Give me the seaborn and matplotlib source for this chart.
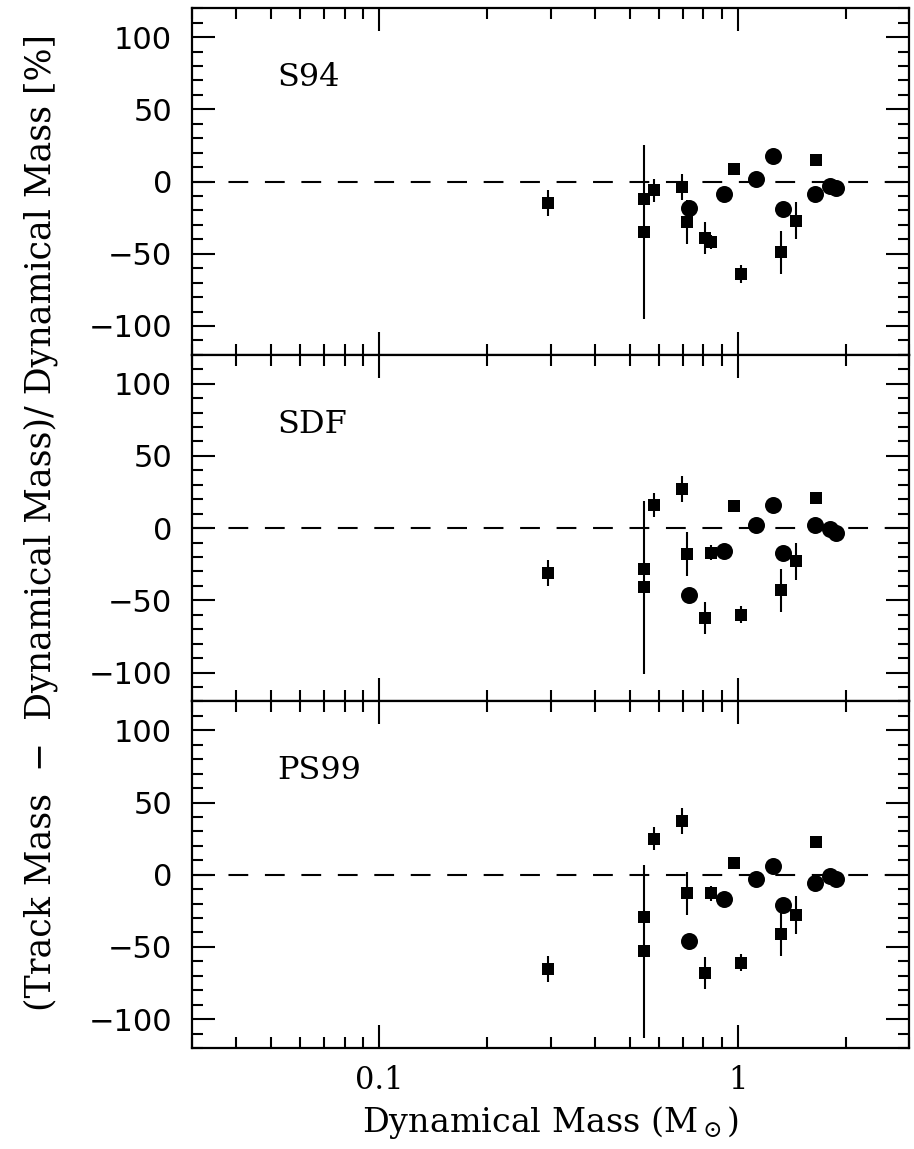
import numpy as np
import pandas as pd
import matplotlib
matplotlib.use('Agg')
import matplotlib.pyplot as plt
import seaborn as sns
from matplotlib.ticker import FixedLocator, FormatStrFormatter, AutoMinorLocator, MultipleLocator

# Dynamical masses (Msun) for the two kinds of systems
square_mass = [0.295, 0.548, 0.548, 0.581, 0.697, 0.719, 0.81, 0.839, 0.971, 1.016, 1.32, 1.45, 1.65]
square_err = [9, 0, 60, 8, 9, 15, 11, 5, 0, 6, 15, 13, 4]
circle_mass = [0.731, 0.911, 1.123, 1.249, 1.332, 1.636, 1.798, 1.868]

# Percent difference (track - dynamical)/dynamical for each set of tracks
track_names = ['S94', 'SDF', 'PS99']
square_diff = {
    'S94': [-15, -12, -35, -6, -4, -28, -39, -42, 9, -64, -49, -27, 15],
    'SDF': [-31, -28, -41, 16, 27, -18, -62, -17, 15, -60, -43, -23, 21],
    'PS99': [-65, -29, -53, 25, 37, -13, -68, -13, 8, -61, -41, -28, 23],
}
circle_diff = {
    'S94': [-18.6, -8.6, 1.6, 17.4, -19.2, -8.6, -2.8, -4.6],
    'SDF': [-46.4, -15.5, 1.9, 15.8, -17.2, 1.9, -0.5, -3.2],
    'PS99': [-46, -17, -3, 6, -21, -6, -1, -3],
}

sns.set_theme(style='ticks', rc={'text.color': 'black', 'axes.labelcolor': 'black',
                                 'xtick.color': 'black', 'ytick.color': 'black',
                                 'axes.edgecolor': 'black'})
plt.rcParams['font.family'] = ['DejaVu Serif']
plt.rcParams['mathtext.fontset'] = 'dejavuserif'

fig, axes = plt.subplots(3, 1, figsize=(9.14, 11.49), dpi=100, sharex=True)
fig.subplots_adjust(left=0.2097, right=0.9949, top=0.9928, bottom=0.0879, hspace=0)

for ax, name in zip(axes, track_names):
    sq = pd.DataFrame({'mass': square_mass, 'diff': square_diff[name], 'err': square_err})
    ci = pd.DataFrame({'mass': circle_mass, 'diff': circle_diff[name]})

    ax.axhline(0, color='black', lw=1.5, ls=(0, (9.5, 8)), zorder=1)
    ax.errorbar(sq['mass'], sq['diff'], yerr=sq['err'], fmt='none',
                ecolor='black', elinewidth=1.5, capsize=0, zorder=2)
    sns.scatterplot(data=sq, x='mass', y='diff', marker='s', s=74, color='black',
                    linewidth=0, ax=ax, zorder=3)
    sns.scatterplot(data=ci, x='mass', y='diff', marker='o', s=150, color='black',
                    linewidth=0, ax=ax, zorder=3)

    ax.set_xscale('log')
    ax.set_xlim(0.03, 3)
    ax.set_ylim(-120, 120)
    ax.yaxis.set_major_locator(MultipleLocator(50))
    ax.yaxis.set_minor_locator(AutoMinorLocator(5))
    ax.xaxis.set_major_locator(FixedLocator([0.1, 1]))
    ax.xaxis.set_major_formatter(FormatStrFormatter('%g'))
    ax.set_xlabel('')
    ax.set_ylabel('')
    for s in ax.spines.values():
        s.set_linewidth(1.6)
    ax.tick_params(which='both', direction='in', top=True, right=True, width=1.5)
    ax.tick_params(which='major', length=16.5)
    ax.tick_params(which='minor', length=8)
    ax.tick_params(axis='y', labelsize=22, pad=14)
    for lab in ax.get_yticklabels():
        lab.set_family('DejaVu Sans')
    ax.text(0.052, 72, name, fontsize=23, va='center', ha='left')

axes[-1].tick_params(axis='x', labelsize=22, pad=12)
axes[-1].set_xlabel(r'Dynamical Mass (M$_\odot$)', fontsize=24, labelpad=6)
fig.text(0.044, 0.545, '(Track Mass  \u2212  Dynamical Mass)/ Dynamical Mass [%]',
         rotation=90, fontsize=25, ha='center', va='center')

fig.savefig('out.png', dpi=100)
